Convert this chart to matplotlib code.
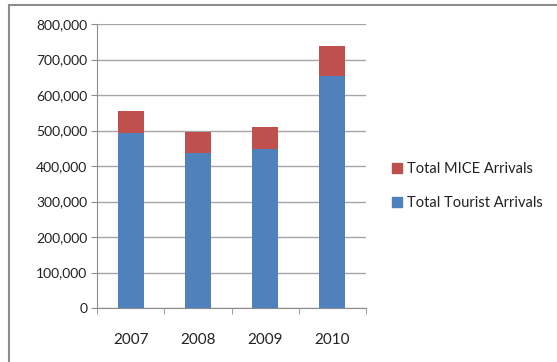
import matplotlib.pyplot as plt
from matplotlib.lines import Line2D
from matplotlib.ticker import FuncFormatter, FixedLocator

years = ['2007', '2008', '2009', '2010']
tourist = [492000, 437000, 447000, 654000]
mice = [62000, 58000, 62000, 85000]

blue = '#4F81BD'
red = '#C0504D'

plt.rcParams['font.family'] = ['Lato', 'DejaVu Sans']

W, H = 557, 362
fig = plt.figure(figsize=(W / 100, H / 100), dpi=100)
ax = fig.add_axes([97 / W, 1 - 308 / H, (366 - 97) / W, (308 - 24) / H])

x = range(len(years))
ax.bar(x, tourist, width=0.39, color=blue, label='Total Tourist Arrivals', zorder=3)
ax.bar(x, mice, width=0.39, bottom=tourist, color=red, label='Total MICE Arrivals', zorder=3)

ax.set_xlim(-0.5, 3.5)
ax.set_ylim(0, 800000)
ax.yaxis.set_major_locator(FixedLocator(range(0, 800001, 100000)))
ax.yaxis.set_major_formatter(FuncFormatter(lambda v, p: f'{int(v):,}'))
ax.grid(axis='y', color='#a6a6a6', linewidth=1, zorder=0)

ax.set_xticks(list(x))
ax.set_xticklabels(years)
ax.set_xticks([-0.5, 0.5, 1.5, 2.5, 3.5], minor=True)
ax.tick_params(axis='x', which='major', length=0, pad=18, labelsize=11, colors='#222222')
ax.tick_params(axis='x', which='minor', length=4, color='#8c8c8c', direction='out')
ax.tick_params(axis='y', length=4, pad=3, labelsize=10, colors='#222222')
ax.tick_params(axis='y', color='#8c8c8c')

for side in ['top', 'right']:
    ax.spines[side].set_visible(False)
for side in ['left', 'bottom']:
    ax.spines[side].set_color('#8c8c8c')

handles = [
    Line2D([], [], marker='s', linestyle='', color=red, markersize=7),
    Line2D([], [], marker='s', linestyle='', color=blue, markersize=7),
]
fig.legend(handles, ['Total MICE Arrivals', 'Total Tourist Arrivals'],
           loc='center left', bbox_to_anchor=(378 / W, 1 - 186 / H),
           frameon=False, fontsize=10.5, handlelength=0.8, handletextpad=0.3,
           labelspacing=1.35, labelcolor='#222222')

# outer chart border
fig.add_artist(Line2D([8.5 / W, 1], [1 - 4.5 / H] * 2, color='#8c8c8c', linewidth=1.5,
                      transform=fig.transFigure))
fig.add_artist(Line2D([8.5 / W] * 2, [0, 1 - 4.5 / H], color='#8c8c8c', linewidth=1.5,
                      transform=fig.transFigure))

fig.savefig('out.png', dpi=100)
